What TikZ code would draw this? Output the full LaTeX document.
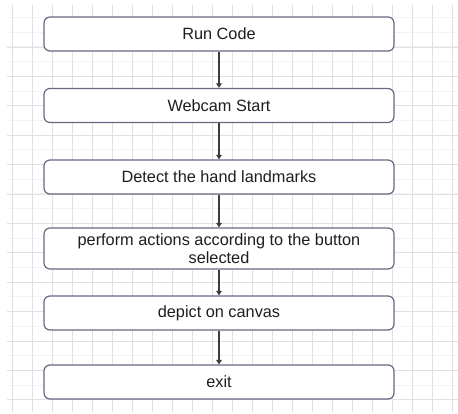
\documentclass[tikz,border=0pt]{standalone}
\usepackage{fontspec}
\setmainfont{Liberation Sans}
\usetikzlibrary{arrows.meta}
\definecolor{gridgray}{RGB}{224,224,228}
\definecolor{gridlight}{RGB}{243,243,245}
\definecolor{boxline}{RGB}{104,104,132}
\definecolor{arrowgray}{RGB}{60,60,60}
\definecolor{textgray}{RGB}{30,30,30}
\tikzset{
    stepbox/.style={rectangle, rounded corners=6pt, draw=boxline, line width=1.2pt, fill=white,
        minimum width=350pt, minimum height=34pt, text=textgray, align=center,
        font=\fontsize{16.3}{17.5}\selectfont},
    flow/.style={draw=arrowgray, line width=1.2pt, -{Triangle[length=4.5pt,width=5.5pt]}}
}
\begin{document}
\begin{tikzpicture}[x=1pt,y=-1pt]
    \useasboundingbox[fill=white] (0,0) rectangle (458,414);
    \foreach \y in {0,...,26} {
        \draw[gridlight, line width=0.8pt] (7,{17.5+14.7*\y}) -- (458,{17.5+14.7*\y});
    }
    \foreach \y in {0,...,12} {
        \draw[gridgray, line width=0.8pt] (7,{47+29.4*\y}) -- (458,{47+29.4*\y});
    }
    \foreach \x in {12,32,...,452} {
        \draw[gridgray, line width=0.8pt] (\x,5) -- (\x,412);
    }
    \node[stepbox] (run) at (219,34) {Run Code};
    \node[stepbox] (cam) at (219,105.5) {Webcam Start};
    \node[stepbox] (detect) at (219,177) {Detect the hand landmarks};
    \node[stepbox, minimum height=41pt] (act) at (219,248.5) {perform actions according to the button\\selected};
    \node[stepbox] (depict) at (219,313) {depict on canvas};
    \node[stepbox] (exit) at (219,382) {exit};
    \draw[flow] (run) -- (cam);
    \draw[flow] (cam) -- (detect);
    \draw[flow] (detect) -- (act);
    \draw[flow] (act) -- (depict);
    \draw[flow] (depict) -- (exit);
\end{tikzpicture}
\end{document}
